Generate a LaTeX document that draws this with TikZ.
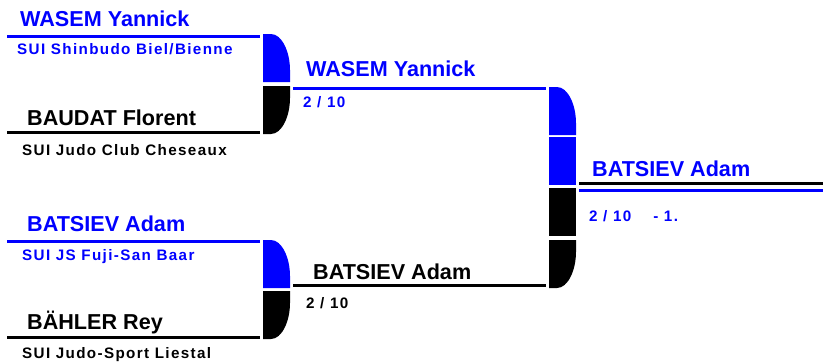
\documentclass[tikz,border=0pt]{standalone}
\usepackage{fontspec}
\setmainfont{Liberation Sans}
\newfontfamily\brkfont[LetterSpace=0]{Liberation Sans}
\newfontfamily\brksmall[LetterSpace=9]{Liberation Sans}
\definecolor{wblue}{RGB}{0,0,255}
\begin{document}
\begin{tikzpicture}[x=1pt,y=-1pt,
  nm/.style={anchor=base west,inner sep=0pt,font=\brkfont\bfseries\fontsize{21.6}{21.6}\selectfont},
  cl/.style={anchor=base west,inner sep=0pt,font=\brksmall\bfseries\fontsize{15.2}{15.2}\selectfont},
  bl/.style={text=wblue},
  bk/.style={text=black},
  hline/.style={line width=3pt},
  bluetop/.pic={\fill[wblue] (0,0) -- (8,0) .. controls (19,0) and (27,18) .. (27,36) -- (27,48) -- (0,48) -- cycle;},
  blackbot/.pic={\fill[black] (0,0) -- (27,0) -- (27,12) .. controls (27,30) and (19,48) .. (8,48) -- (0,48) -- cycle;},
  bluerect/.pic={\fill[wblue] (0,0) rectangle (27,48);},
  blackrect/.pic={\fill[black] (0,0) rectangle (27,48);}
]
\useasboundingbox (0,0) rectangle (823,362);

% Round 1, match 1
\node[nm,bl] (n1) at (20,26) {WASEM Yannick};
\node[cl,bl] (c1) at (17,54) {SUI Shinbudo Biel/Bienne};
\node[nm,bk] (n2) at (27,125) {BAUDAT Florent};
\node[cl,bk] (c2) at (22,155) {SUI Judo Club Cheseaux};
\coordinate (l1a) at (7,36); \coordinate (l1b) at (260,36);
\coordinate (l2a) at (7,132); \coordinate (l2b) at (260,132);
\draw[hline,wblue] (l1a) -- (l1b);
\draw[hline,black] (l2a) -- (l2b);
\pic at (263,34) {bluetop};
\pic at (263,86) {blackbot};

% Round 1, match 2
\node[nm,bl] (n3) at (27,231) {BATSIEV Adam};
\node[cl,bl] (c3) at (22,260) {SUI JS Fuji-San Baar};
\node[nm,bk] (n4) at (27,329) {BÄHLER Rey};
\node[cl,bk] (c4) at (22,358) {SUI Judo-Sport Liestal};
\coordinate (l3a) at (7,241); \coordinate (l3b) at (260,241);
\coordinate (l4a) at (7,337); \coordinate (l4b) at (260,337);
\draw[hline,wblue] (l3a) -- (l3b);
\draw[hline,black] (l4a) -- (l4b);
\pic at (263,240) {bluetop};
\pic at (263,291) {blackbot};

% Round 2
\node[nm,bl] (n5) at (306,76) {WASEM Yannick};
\node[cl,bl] (s5) at (303,107) {2 / 10};
\node[nm,bk] (n6) at (313,279) {BATSIEV Adam};
\node[cl,bk] (s6) at (306,308) {2 / 10};
\coordinate (l5a) at (293,88); \coordinate (l5b) at (546,88);
\coordinate (l6a) at (293,285); \coordinate (l6b) at (546,285);
\draw[hline,wblue] (l5a) -- (l5b);
\draw[hline,black] (l6a) -- (l6b);
\pic at (549,87) {bluetop};
\pic at (549,137) {bluerect};
\pic at (549,188) {blackrect};
\pic at (549,240) {blackbot};

% Final
\node[nm,bl] (n7) at (592,176) {BATSIEV Adam};
\node[cl,bl] (s7) at (589,221) {2 / 10\hspace{22pt}- 1.};
\coordinate (l7a) at (579,183); \coordinate (l7b) at (823,183);
\coordinate (l8a) at (579,190); \coordinate (l8b) at (823,190);
\draw[hline,black] (l7a) -- (l7b);
\draw[hline,wblue] (l8a) -- (l8b);
\end{tikzpicture}
\end{document}
